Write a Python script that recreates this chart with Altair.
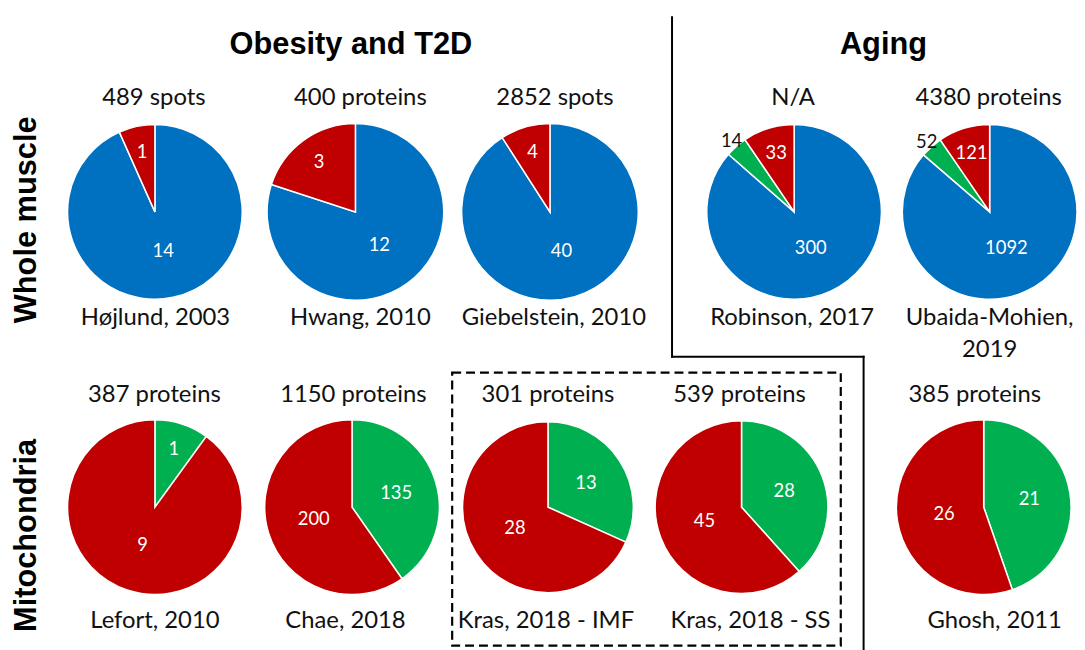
import math
import altair as alt
import pandas as pd

# ---------------- data ----------------
studies = ["Højlund, 2003", "Hwang, 2010", "Giebelstein, 2010", "Robinson, 2017",
           "Ubaida-Mohien,\n2019", "Lefort, 2010", "Chae, 2018", "Kras, 2018 - IMF",
           "Kras, 2018 - SS", "Ghosh, 2011"]
coverage = ["489 spots", "400 proteins", "2852 spots", "N/A", "4380 proteins",
            "387 proteins", "1150 proteins", "301 proteins", "539 proteins", "385 proteins"]
categories = ["blue", "green", "red"]          # clockwise order from 12 o'clock
blue_counts = [14, 12, 40, 300, 1092, 0, 0, 0, 0, 0]
green_counts = [0, 0, 0, 14, 52, 1, 135, 13, 28, 21]
red_counts = [1, 3, 4, 33, 121, 9, 200, 28, 45, 26]
group_titles = ["Obesity and T2D", "Aging"]
row_titles = ["Whole muscle", "Mitochondria"]

rows = []
for i, s in enumerate(studies):
    for k, (cat, vals) in enumerate(zip(categories, [blue_counts, green_counts, red_counts])):
        if vals[i] > 0:
            rows.append({"study": s, "cat": cat, "k": k, "value": vals[i]})
df = pd.DataFrame(rows)

# ---------------- layout (page pixels; chart origin is at 8,8) ----------------
OFF = 8
pie_center = [(156, 211), (358, 211), (554, 211), (800, 211), (997, 211),
              (156, 508.5), (354.6, 508.5), (552, 508.5), (747, 508.5), (991, 508.5)]
pie_radius = [88, 89, 89, 88, 88, 88, 88, 86, 87, 88]
count_pos = [(155, 103), (363, 103), (559, 103), (799, 103), (996, 103),
             (155.5, 403), (356, 403), (552, 403), (745, 403), (982, 403)]
name_pos = [(156.6, 325), (363, 325), (558, 325), (798, 325), (997, 325),
            (156, 630), (348, 630), (550, 630), (756, 630), (1002, 630)]
group_pos = [(353.5, 52), (890, 52)]
row_pos = [(36.5, 219), (36, 537)]

FONT = "Lato"
TEXT_COLOR = "#111111"
color_scale = alt.Scale(domain=categories, range=["#0070C0", "#00B050", "#C00000"])
theta_scale = alt.Scale(domain=[0, 1], range=[0, 2 * math.pi])

one = pd.DataFrame({"a": [0]})


def pie(i):
    s = studies[i]
    cx, cy = pie_center[i]
    r = pie_radius[i]
    base = (
        alt.Chart(df)
        .transform_filter(alt.datum.study == s)
        .transform_joinaggregate(total="sum(value)")
        .transform_window(cum="sum(value)", sort=[alt.SortField("k")], frame=[None, 0])
        .transform_calculate(
            f0="(datum.cum - datum.value) / datum.total",
            f1="datum.cum / datum.total",
            fm="(datum.cum - datum.value / 2) / datum.total",
            frac="datum.value / datum.total",
        )
    )
    arcs = base.mark_arc(outerRadius=r, stroke="white", strokeWidth=1.5).encode(
        theta=alt.Theta("f0:Q", scale=theta_scale),
        theta2="f1:Q",
        color=alt.Color("cat:N", scale=color_scale, legend=None),
        x=alt.value(cx - OFF),
        y=alt.value(cy - OFF),
    )
    labels = (
        base.transform_calculate(
            lr=f"datum.frac < 0.05 ? {r * 1.08} : datum.frac < 0.25 ? {r * 0.70} : "
               f"datum.frac < 0.5 ? {r * 0.53} : {r * 0.46}"
        )
        .mark_text(font=FONT, fontSize=18.5, align="center", baseline="middle")
        .encode(
            theta=alt.Theta("fm:Q", scale=theta_scale),
            radius=alt.Radius("lr:Q", scale=None),
            text=alt.Text("value:Q"),
            color=alt.when(alt.datum.frac < 0.05)
            .then(alt.value("#111111"))
            .otherwise(alt.value("white")),
            x=alt.value(cx - OFF),
            y=alt.value(cy - OFF),
        )
    )
    return [arcs, labels]


layers = []
for i in range(len(studies)):
    layers += pie(i)

# per-pie captions
for i in range(len(studies)):
    x, y = count_pos[i]
    layers.append(
        alt.Chart(one).mark_text(font=FONT, fontSize=24, color=TEXT_COLOR, align="center",
                                 baseline="alphabetic", text=coverage[i])
        .encode(x=alt.value(x - OFF), y=alt.value(y - OFF))
    )
    x, y = name_pos[i]
    layers.append(
        alt.Chart(one).mark_text(font=FONT, fontSize=24, color=TEXT_COLOR, align="center",
                                 baseline="alphabetic", lineBreak="\n", lineHeight=32,
                                 text=studies[i])
        .encode(x=alt.value(x - OFF), y=alt.value(y - OFF))
    )

# group and row titles
for t, (x, y) in zip(group_titles, group_pos):
    layers.append(
        alt.Chart(one).mark_text(font="Liberation Sans", fontSize=31, fontWeight="bold",
                                 color="black", align="center", baseline="alphabetic", text=t)
        .encode(x=alt.value(x - OFF), y=alt.value(y - OFF))
    )
for t, (x, y) in zip(row_titles, row_pos):
    layers.append(
        alt.Chart(one).mark_text(font="Liberation Sans", fontSize=31, fontWeight="bold",
                                 color="black", align="center", baseline="alphabetic",
                                 angle=270, text=t)
        .encode(x=alt.value(x - OFF), y=alt.value(y - OFF))
    )

# separator between the two groups
sep = [((677, 15), (677, 357)), ((677, 357), (870, 357)), ((870, 357), (870, 652))]
for (x1, y1), (x2, y2) in sep:
    layers.append(
        alt.Chart(one).mark_rule(color="black", strokeWidth=2, strokeCap="square")
        .encode(x=alt.value(x1 - OFF), y=alt.value(y1 - OFF),
                x2=alt.value(x2 - OFF), y2=alt.value(y2 - OFF))
    )

# dashed box around the two Kras pies
layers.append(
    alt.Chart(one).mark_rect(fill=None, stroke="black", strokeWidth=2.2, strokeDash=[9, 5])
    .encode(x=alt.value(455.5 - OFF), x2=alt.value(847 - OFF),
            y=alt.value(373 - OFF), y2=alt.value(648 - OFF))
)

chart = (
    alt.layer(*layers)
    .properties(width=1077, height=642, autosize="none", padding=0, background="white")
    .configure_view(stroke=None)
)

chart.save("out.html", embed_options={"renderer": "svg", "actions": False})
